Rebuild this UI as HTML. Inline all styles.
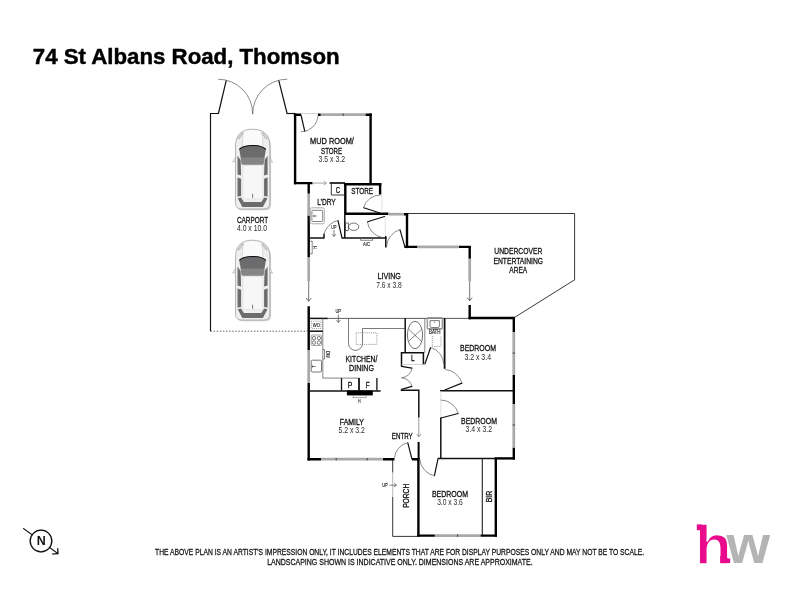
<!DOCTYPE html>
<html lang="en">
<head>
<meta charset="utf-8">
<title>74 St Albans Road, Thomson</title>
<style>
html,body{margin:0;padding:0;background:#fff;}
body{width:800px;height:600px;overflow:hidden;font-family:"Liberation Sans",sans-serif;}
svg{display:block;position:absolute;left:0;top:0;will-change:transform;}
text{font-family:"Liberation Sans",sans-serif;}
.w{stroke:#000;stroke-width:2.4;fill:none;stroke-linecap:butt;}
.m{stroke:#111;stroke-width:1.5;fill:none;}
.t{stroke:#222;stroke-width:0.9;fill:none;}
.l{stroke:#bbb;stroke-width:0.7;fill:none;}
.g{stroke:#a9a9a9;stroke-width:2.7;fill:none;}
.a{stroke:#505050;stroke-width:0.8;fill:none;}
.k{stroke:#222;stroke-width:0.8;fill:none;}
.d{stroke:#5a5a5a;stroke-width:0.7;fill:none;stroke-linecap:round;}
.dl{stroke:#111;stroke-width:1.2;fill:none;stroke-linecap:round;}
.f{stroke:#555;stroke-width:0.7;fill:none;}
.dot{stroke:#333;stroke-width:0.75;fill:none;stroke-dasharray:1.5 1.6;}
.dot2{stroke:#555;stroke-width:0.65;fill:none;stroke-dasharray:1 1.1;}
.rn{font-size:8.9px;fill:#111;text-anchor:middle;stroke:#111;stroke-width:0.3;}
.rd{font-size:8.6px;fill:#2a2a2a;text-anchor:middle;}
.sm{font-size:5.3px;fill:#111;text-anchor:middle;stroke:#111;stroke-width:0.12;}
</style>
</head>
<body>
<svg width="800" height="600" viewBox="0 0 800 600">
<rect width="800" height="600" fill="#fff"/>

<!-- TITLE -->
<text x="32.8" y="64.1" font-size="22.8" font-weight="bold" fill="#000" stroke="#000" stroke-width="0.45" textLength="306.8" lengthAdjust="spacingAndGlyphs">74 St Albans Road, Thomson</text>

<!-- CARPORT -->
<g id="carport">
<path class="t" style="stroke:#111;stroke-width:1.15" d="M218.4 113.5H210.5V331.2"/>
<path class="t" style="stroke:#111;stroke-width:1.15" d="M287.1 113.5H295"/>
<path class="dot" d="M210.5 331.2H307.5"/>
<path class="dl" d="M218.4 113.5L226.2 80.6M287.1 113.5L278.8 80.6"/>
<path class="d" d="M218.6 79.2A34.3 34.3 0 0 1 252.7 113.8"/>
<path class="d" d="M286.9 79.2A34.3 34.3 0 0 0 252.7 113.8"/>
</g>

<!-- CAR -->
<defs>
<g id="car">
 <path d="M0.5 17C0.5 6 6.5 0.2 17.6 0.2S34.8 6 34.8 17V74Q34.8 80 28.8 80H6.5Q0.5 80 0.5 74Z" fill="#cfcfcf" transform="translate(1.3,1.2)"/>
 <path d="M0.5 17C0.5 6 6.5 0.2 17.6 0.2S34.8 6 34.8 17V74Q34.8 80 28.8 80H6.5Q0.5 80 0.5 74Z" fill="#efefef" stroke="#a4a4a4" stroke-width="0.8"/>
 <path d="M9 2.6C7.6 7 7 12 7.4 17.5L17.6 15.5L27.8 17.5C28.2 12 27.6 7 26.2 2.6C21 0.8 14 0.8 9 2.6Z" fill="#fafafa"/>
 <path d="M9 2.6C7.6 7 7 12 7.4 17.5M26.2 2.6C27.6 7 28.2 12 27.8 17.5" stroke="#c6c6c6" stroke-width="0.6" fill="none"/>
 <path d="M2.8 9.4L7.2 3.6L7.6 5.2L4 10.2Z" fill="#e2e2e2" stroke="#8c8c8c" stroke-width="0.5"/>
 <path d="M32.4 9.4L28 3.6L27.6 5.2L31.2 10.2Z" fill="#e2e2e2" stroke="#8c8c8c" stroke-width="0.5"/>
 <path d="M2.7 27L5.6 31L6.1 46.6L2.7 45.4Z" fill="#6a6a6a"/>
 <path d="M32.5 27L29.6 31L29.1 46.6L32.5 45.4Z" fill="#6a6a6a"/>
 <path d="M2.7 48.6L6.1 49.8V67L2.7 67.6Z" fill="#6a6a6a"/>
 <path d="M32.5 48.6L29.1 49.8V67L32.5 67.6Z" fill="#6a6a6a"/>
 <path d="M2.7 69.2L7.3 78H27.9L32.5 69.2L29.1 68.6L26.4 73H8.8L6.1 68.6Z" fill="#6c6c6c"/>
 <path d="M2.7 27V45.4M2.7 48.6V67.6M32.5 27V45.4M32.5 48.6V67.6" stroke="#a2a2a2" stroke-width="0.9" fill="none"/>
 <path d="M4.3 20.4C9 15.2 26.2 15.2 30.9 20.4L28.3 35.6H6.9Z" fill="#6c6c6e"/>
 <path d="M5.7 28.6H29.5L28.3 35.6H6.9Z" fill="#858585"/>
 <path d="M4.3 20.4C9 15.2 26.2 15.2 30.9 20.4" stroke="#111" stroke-width="1.2" fill="none"/>
 <rect x="8" y="36.4" width="19.8" height="33.4" rx="2" fill="#f7f7f7" stroke="#d6d6d6" stroke-width="0.5"/>
 <path d="M0.6 28L-2.3 33.2L0.6 32Z" fill="#eee" stroke="#9a9a9a" stroke-width="0.5"/>
 <path d="M34.7 28L37.6 33.2L34.7 32Z" fill="#eee" stroke="#9a9a9a" stroke-width="0.5"/>
 <path d="M17.6 64.8V68.8" stroke="#222" stroke-width="0.6"/>
</g>
</defs>
<use href="#car" x="235" y="129"/>
<use href="#car" x="235" y="240"/>

<!-- THICK WALLS -->
<g id="walls">
<!-- mud room -->
<path class="w" d="M295.1 113.5V184.3"/>
<path class="w" d="M293.9 114.7H301M318 114.7H320.8M365.4 114.7H371.8"/>
<path class="g" d="M320.8 114.7H365.4"/>
<path class="k" d="M343.2 113.5V115.9"/>
<path class="l" d="M301 113.6H318"/>
<path class="w" d="M370.6 113.5V184.3"/>
<path class="w" d="M293.9 183.1H312.5M344 184.2H381.3"/><path class="m" style="stroke-width:1.7" d="M329.6 183H345"/>
<path class="a" style="stroke:#808080;stroke-width:0.7" d="M312.5 183.1H326.2M323.8 181.2L326.3 183.1L323.8 185"/>
<!-- left long wall -->
<path class="w" d="M308.7 183.1V193.8M308.7 215.6V257.5M308.7 306.2V350M308.7 383.1V460.4"/>
<path class="g" d="M308.7 193.8V215.6M308.7 257.5V281.2M308.7 350V383.1"/>
<path class="a" d="M308.7 281.2V301.2M306.2 298L308.7 301.3L311.2 298"/>
<!-- store -->
<path class="w" d="M345.3 183.1V215M380.1 183.1V194.5M344.1 213.8H388.5M403.8 214.2H408.2"/>
<path class="g" d="M388.5 214.2H403.8"/>
<path class="l" style="stroke:#d4d4d4" d="M381.9 194.4V213M385.3 215.4V236"/>
<path class="w" d="M407 213V248.1"/>
<path class="w" d="M404.4 246.9H417.5M458.8 246.9H470.9"/>
<path class="g" d="M417.5 246.9H458.8"/>
<!-- living right wall -->
<path class="w" d="M469.7 246.9V258.8M469.7 305.1V319.2"/>
<path class="g" d="M469.7 258.8V281.5"/>
<path class="a" d="M469.7 281.5V300.8M467.2 297.5L469.7 300.8L472.2 297.5"/>
<!-- bedroom 1 -->
<path class="w" d="M468.5 318H515"/>
<path class="w" d="M513.8 318V331.9M513.8 375V404M513.8 447.5V459.6"/>
<path class="g" d="M513.8 331.9V375M513.8 404V447.5"/>
<path class="k" d="M512.6 353.1H515M512.6 425H515"/>
<!-- bed 2 bottom / bed 3 -->
<path class="w" d="M494.6 458.4H515"/>
<path class="w" d="M495.8 458.4V536.8"/>
<path class="w" d="M417.2 535.6H434.9M480.4 535.6H497"/>
<path class="g" d="M434.9 535.6H480.4"/>
<path class="k" d="M457.6 534.4V536.8"/>
<path class="w" d="M418.4 458V536.8"/>
<path class="w" style="stroke-width:2" d="M418.6 441.9V458.5"/>
<!-- family bottom -->
<path class="w" d="M307.5 459.2H321M382.8 459.2H394.4M411.9 459.2H419.6"/>
<path class="g" d="M321 459.2H382.8"/>
<path class="k" d="M336.2 458V460.4M367.2 458V460.4"/>
</g>

<!-- MEDIUM / THIN WALLS -->
<g id="inner">
<!-- C box -->
<path class="t" d="M331.3 184V195H344.2"/>
<!-- WC room -->
<path class="m" d="M344.8 215V238.1M308 238.1H324.4M341.9 238.1H386.4"/>
<path class="m" d="M324 233.8V238.1M385.8 236V247.6"/>
<!-- undercover -->
<path class="t" d="M408 213.5H574.6V279.8L514.6 317.4"/>
<!-- kitchen top line -->
<path class="m" d="M309 318.4H327.8"/>
<path class="t" style="stroke:#333;stroke-width:0.8" d="M327.8 318.4H468.8"/>
<!-- bath -->
<path class="m" d="M405.2 318V352.8"/>
<path class="f" d="M424.8 318V352.8"/>
<path class="m" style="stroke-width:1.8" d="M444.6 318V368.8"/>
<!-- L box -->
<path class="m" d="M401.5 366.3V352.8H423.4V364.4"/>
<path class="l" d="M401.5 364.4H425"/>
<!-- hall -->
<path class="m" d="M400.7 390.3H419.5M418.8 389.6V417.5"/>
<path class="a" style="stroke:#707070;stroke-width:0.7" d="M418.8 417.5V436.9M416.6 434L418.8 436.9L421 434"/>
<!-- family top wall -->
<path class="m" d="M308 390.9H380.6"/>
<!-- bed1/bed2 divider -->
<path class="m" d="M440.1 390.7H513"/>
<path class="m" d="M440.8 417.5V459.1"/>
<path class="l" style="stroke:#d4d4d4" d="M440.8 391V417.5"/>
<path class="m" d="M438.1 458.4H495"/>
<path class="t" style="stroke-width:1.1" d="M482.3 458.4V535"/>
<!-- porch -->
<path class="t" d="M392.7 460V472.5M392.7 497V536.4H418"/>
<path class="l" style="stroke:#999" d="M392.7 472.5V497"/>
</g>

<!-- DOORS -->
<g id="doors">
<path class="dl" d="M301 115L304.8 131.3"/><path class="d" d="M301.2 131.8A16.8 16.8 0 0 0 318 115.6"/>
<path class="dl" d="M380 213L363.8 207.8"/><path class="d" d="M363.4 207.6A17.5 17.5 0 0 1 380 195"/>
<path class="dl" d="M384.5 216.5L367.6 221.8"/><path class="d" d="M367.4 221.9A18 18 0 0 0 382 237.5"/>
<path class="dl" d="M405 247.2L400 229.8"/><path class="d" d="M400 229.6A18.2 18.2 0 0 0 386.5 246.8"/>
<path class="dl" d="M342 238L338 220.6"/><path class="d" d="M338 220.5A18 18 0 0 0 324 233.8"/>
<path class="dl" d="M425 363.8L430.6 347.5"/><path class="d" d="M430.6 347.4A18 18 0 0 1 443.8 363.8"/>
<path class="dl" d="M401.5 366.3L411.9 368.1"/><path class="d" d="M412 368.2A10.8 10.8 0 0 1 401.9 377.8"/>
<path class="dl" d="M401.5 389.4L411.9 386.3"/><path class="d" d="M412 386.2A11 11 0 0 0 401.9 377.8"/>
<path class="dl" d="M444.8 390L461.9 383.1"/><path class="d" d="M462 383A19.5 19.5 0 0 0 445.6 369.4"/>
<path class="dl" d="M441 418L458.1 413.5"/><path class="d" d="M458.2 413.4A18 18 0 0 0 441.2 400"/>
<path class="dl" d="M411.9 458.8L407.8 442.8"/><path class="d" d="M407.8 442.6A17 17 0 0 0 394.4 458"/>
<path class="dl" d="M438.1 458.4L434.4 475.6"/><path class="d" d="M434.4 475.8A18 18 0 0 1 419.8 459.6"/>
</g>

<!-- FIXTURES -->
<g id="fixtures">
<!-- laundry tub -->
<rect x="310.3" y="207.8" width="14" height="16" rx="1.5" class="f" style="stroke:#aaa;stroke-width:1"/>
<rect x="311.9" y="210.3" width="10.8" height="11.2" rx="0.8" class="f" style="stroke:#666;stroke-width:0.8"/>
<path class="f" style="stroke:#333" d="M313.6 216H316.6M313.9 214.9V217.1"/>
<!-- toilet -->
<rect x="345.4" y="223" width="2.9" height="7.5" class="f" style="stroke:#333"/>
<ellipse cx="353.7" cy="226.75" rx="5.1" ry="3.7" class="f" style="stroke:#333"/>
<!-- AC -->
<path class="f" d="M360.6 238.1V240.3H372.5V238.1"/>
<!-- heater -->
<path class="f" d="M309.8 241.2H312.2V253.8H309.8"/>
<!-- WO -->
<path class="f" style="stroke:#666;stroke-width:0.8" d="M322.8 318.4V378.1H359.4"/>
<path class="m" d="M309 331.2H322.8"/>
<rect x="311.2" y="321.2" width="9.8" height="7.2" class="dot2"/>
<!-- cooktop -->
<rect x="311.2" y="335" width="10.3" height="10.5" rx="1" class="f" style="stroke:#999;stroke-width:0.9"/>
<circle cx="314" cy="338.1" r="1.7" class="f" style="stroke:#444"/><circle cx="318.9" cy="338.1" r="1.7" class="f" style="stroke:#444"/>
<circle cx="314" cy="342.6" r="1.7" class="f" style="stroke:#444"/><circle cx="318.9" cy="342.6" r="1.7" class="f" style="stroke:#444"/>
<!-- DW -->
<path class="f" d="M322.8 349.5H324.5V359H322.8"/>
<!-- kitchen sink -->
<rect x="311.2" y="360.2" width="10.3" height="11.8" rx="1" class="f" style="stroke:#666;stroke-width:0.9"/>
<path class="f" style="stroke:#333" d="M312 366.5H315.5M312.3 365.4V367.6"/>
<!-- island -->
<path class="f" style="stroke:#444" d="M348.5 318.4V343.4A7 7 0 0 0 362.5 343.4V328.5H405.2"/>
<rect x="356.2" y="332.8" width="20.7" height="11.6" class="dot2"/>
<!-- shower -->
<ellipse cx="415" cy="335" rx="7.6" ry="13.7" class="f" style="stroke:#333"/>
<path class="f" d="M408.8 329.4L421.4 341.2M421.4 329.4L408.8 341.2"/>
<!-- vanity -->
<rect x="427.3" y="317.8" width="15" height="11" rx="0.8" class="f" style="stroke:#999;stroke-width:1.4"/>
<path class="f" style="stroke:#444" d="M430 320.6H439.4V326A1.5 1.5 0 0 1 437.9 327.5H431.5A1.5 1.5 0 0 1 430 326Z"/>
<path class="f" d="M434.7 321.5V323"/>
<path class="dot2" d="M432.3 336V346.5H440.9V336"/>
<!-- pantry / fridge -->
<path class="m" style="stroke-width:1.3" d="M341.5 390.6V378.1"/>
<path class="m" style="stroke-width:1.8" d="M359 378.1V390.6"/>
<path class="m" style="stroke-width:1.3" d="M376.9 378.1V390.6"/>
<!-- fireplace -->
<rect x="346.9" y="390.5" width="25.9" height="4.9" fill="#000"/>
<rect x="353.1" y="395.4" width="12.9" height="2.3" class="f" style="stroke:#888"/>
</g>

<!-- UP arrows -->
<g>
<path class="a" style="stroke-width:0.7" d="M334 230V236.4M332.2 234.2L334 236.5L335.8 234.2"/>
<path class="a" style="stroke-width:0.7" d="M338.4 314.4V322.5M336.4 320L338.4 322.6L340.4 320"/>
<path class="a" style="stroke-width:0.7" d="M389.4 485.2H396.4M394 483.4L396.5 485.2L394 487"/>
</g>

<!-- LABELS -->
<g id="labels">
<text class="rn" x="332" y="143.8" textLength="43.8" lengthAdjust="spacingAndGlyphs">MUD ROOM/</text>
<text class="rn" x="331.6" y="153.5" textLength="21.2" lengthAdjust="spacingAndGlyphs">STORE</text>
<text class="rd" x="331.8" y="161.9" textLength="26.5" lengthAdjust="spacingAndGlyphs">3.5 x 3.2</text>

<text class="rn" x="252.5" y="223.1" textLength="31.2" lengthAdjust="spacingAndGlyphs">CARPORT</text>
<text class="rd" x="252" y="230.7" textLength="30.2" lengthAdjust="spacingAndGlyphs">4.0 x 10.0</text>

<text class="rn" x="389.2" y="279.4" textLength="23.5" lengthAdjust="spacingAndGlyphs">LIVING</text>
<text class="rd" x="389" y="287.7" textLength="25.6" lengthAdjust="spacingAndGlyphs">7.6 x 3.8</text>

<text class="rn" x="518.3" y="254.4" textLength="47.9" lengthAdjust="spacingAndGlyphs">UNDERCOVER</text>
<text class="rn" x="518.3" y="263.8" textLength="49.6" lengthAdjust="spacingAndGlyphs">ENTERTAINING</text>
<text class="rn" x="518.3" y="273.1" textLength="17.9" lengthAdjust="spacingAndGlyphs">AREA</text>

<text class="rn" x="361.5" y="361.6" textLength="31.9" lengthAdjust="spacingAndGlyphs">KITCHEN/</text>
<text class="rn" x="361.5" y="371" textLength="25" lengthAdjust="spacingAndGlyphs">DINING</text>

<text class="rn" x="351.9" y="424.8" textLength="24.2" lengthAdjust="spacingAndGlyphs">FAMILY</text>
<text class="rd" x="351.6" y="433.1" textLength="26.2" lengthAdjust="spacingAndGlyphs">5.2 x 3.2</text>

<text class="rn" x="478" y="351.2" textLength="36" lengthAdjust="spacingAndGlyphs">BEDROOM</text>
<text class="rd" x="477.7" y="359.6" textLength="26.6" lengthAdjust="spacingAndGlyphs">3.2 x 3.4</text>

<text class="rn" x="479" y="423.5" textLength="36" lengthAdjust="spacingAndGlyphs">BEDROOM</text>
<text class="rd" x="478.8" y="431.7" textLength="26.5" lengthAdjust="spacingAndGlyphs">3.4 x 3.2</text>

<text class="rn" x="450" y="496.6" textLength="36.2" lengthAdjust="spacingAndGlyphs">BEDROOM</text>
<text class="rd" x="450" y="504.8" textLength="25.7" lengthAdjust="spacingAndGlyphs">3.0 x 3.6</text>

<text class="rn" x="402.3" y="439.4" textLength="20.9" lengthAdjust="spacingAndGlyphs">ENTRY</text>

<text class="rn" x="362.1" y="194.4" style="font-size:9.2px" textLength="21.8" lengthAdjust="spacingAndGlyphs">STORE</text>
<text class="rn" x="337.9" y="192.5" textLength="4.4" lengthAdjust="spacingAndGlyphs">C</text>
<text class="rn" x="326.4" y="205.2" style="font-size:9.2px" textLength="18.5" lengthAdjust="spacingAndGlyphs">L’DRY</text>

<text class="rn" x="412.8" y="361" textLength="3.6" lengthAdjust="spacingAndGlyphs">L</text>
<text class="rn" x="350" y="387.5" font-size="8.8" textLength="4.6" lengthAdjust="spacingAndGlyphs" style="stroke-width:0.3">P</text>
<text class="rn" x="367.8" y="387.5" font-size="8.8" textLength="4" lengthAdjust="spacingAndGlyphs" style="stroke-width:0.3">F</text>

<text class="rn" x="434.7" y="334.4" style="font-size:6.3px;stroke-width:0.15" textLength="11.6" lengthAdjust="spacingAndGlyphs">BATH</text>

<text class="rn" transform="translate(408.6,495.8) rotate(-90)" textLength="24.1" lengthAdjust="spacingAndGlyphs">PORCH</text>
<text class="rn" transform="translate(491.6,496.6) rotate(-90)" textLength="11.5" lengthAdjust="spacingAndGlyphs">BIR</text>

<text class="sm" x="333.9" y="228.7" textLength="5.2" lengthAdjust="spacingAndGlyphs">UP</text>
<text class="sm" x="338.2" y="312.5" textLength="5.6" lengthAdjust="spacingAndGlyphs">UP</text>
<text class="sm" x="385" y="486.9" textLength="5.6" lengthAdjust="spacingAndGlyphs">UP</text>
<text class="sm" x="366.6" y="246.3" textLength="7" lengthAdjust="spacingAndGlyphs">A/C</text>
<text class="sm" x="316.4" y="326.9" textLength="7.2" lengthAdjust="spacingAndGlyphs">WO</text>
<text class="sm" x="359.4" y="403.1" font-size="4.2" textLength="2.6" lengthAdjust="spacingAndGlyphs">H</text>
<text class="sm" transform="translate(317.4,247.5) rotate(-90)" font-size="4.2" textLength="2.4" lengthAdjust="spacingAndGlyphs">H</text>
<text class="sm" transform="translate(326.2,354.4) rotate(90)" font-size="4.6" textLength="6.8" lengthAdjust="spacingAndGlyphs">DW</text>
</g>

<!-- COMPASS -->
<g id="compass" style="filter:drop-shadow(0.7px 0.8px 0.5px rgba(0,0,0,0.3))">
<path d="M23.6 528.6L58 553.6M57.7 548.6L58 553.6L52.6 554" stroke="#111" stroke-width="1.15" fill="none" stroke-linecap="round" stroke-linejoin="round"/>
<circle cx="41" cy="541" r="10.8" fill="#fff" stroke="#111" stroke-width="1.3"/>
<text x="41.2" y="545.1" font-size="13.6" font-weight="bold" text-anchor="middle" fill="#111" textLength="9" lengthAdjust="spacingAndGlyphs">N</text>
</g>

<!-- DISCLAIMER -->
<g fill="#111" font-size="9.8" text-anchor="middle" stroke="#111" stroke-width="0.28">
<text x="399.6" y="554.6" textLength="489" lengthAdjust="spacingAndGlyphs">THE ABOVE PLAN IS AN ARTIST'S IMPRESSION ONLY, IT INCLUDES ELEMENTS THAT ARE FOR DISPLAY PURPOSES ONLY AND MAY NOT BE TO SCALE.</text>
<text x="399.9" y="565" textLength="265.5" lengthAdjust="spacingAndGlyphs">LANDSCAPING SHOWN IS INDICATIVE ONLY. DIMENSIONS ARE APPROXIMATE.</text>
</g>

<!-- LOGO -->
<g id="logo" font-weight="bold">
<text x="695.05" y="563.7" font-size="54.8" fill="#ea0a8c" stroke="#fff" stroke-width="1.4" textLength="36.6" lengthAdjust="spacingAndGlyphs">h</text>
<path d="M696.8 524.4H702V530.2H696.8Z" fill="#ea0a8c"/>
<path d="M720.2 556V563H730.2V558.4H728Q726.4 558.4 726.4 556Z" fill="#ea0a8c"/>
<text x="726.4" y="563" font-size="52.4" fill="#b4b4b4" textLength="43.6" lengthAdjust="spacingAndGlyphs">w</text>
</g>
</svg>
</body>
</html>
